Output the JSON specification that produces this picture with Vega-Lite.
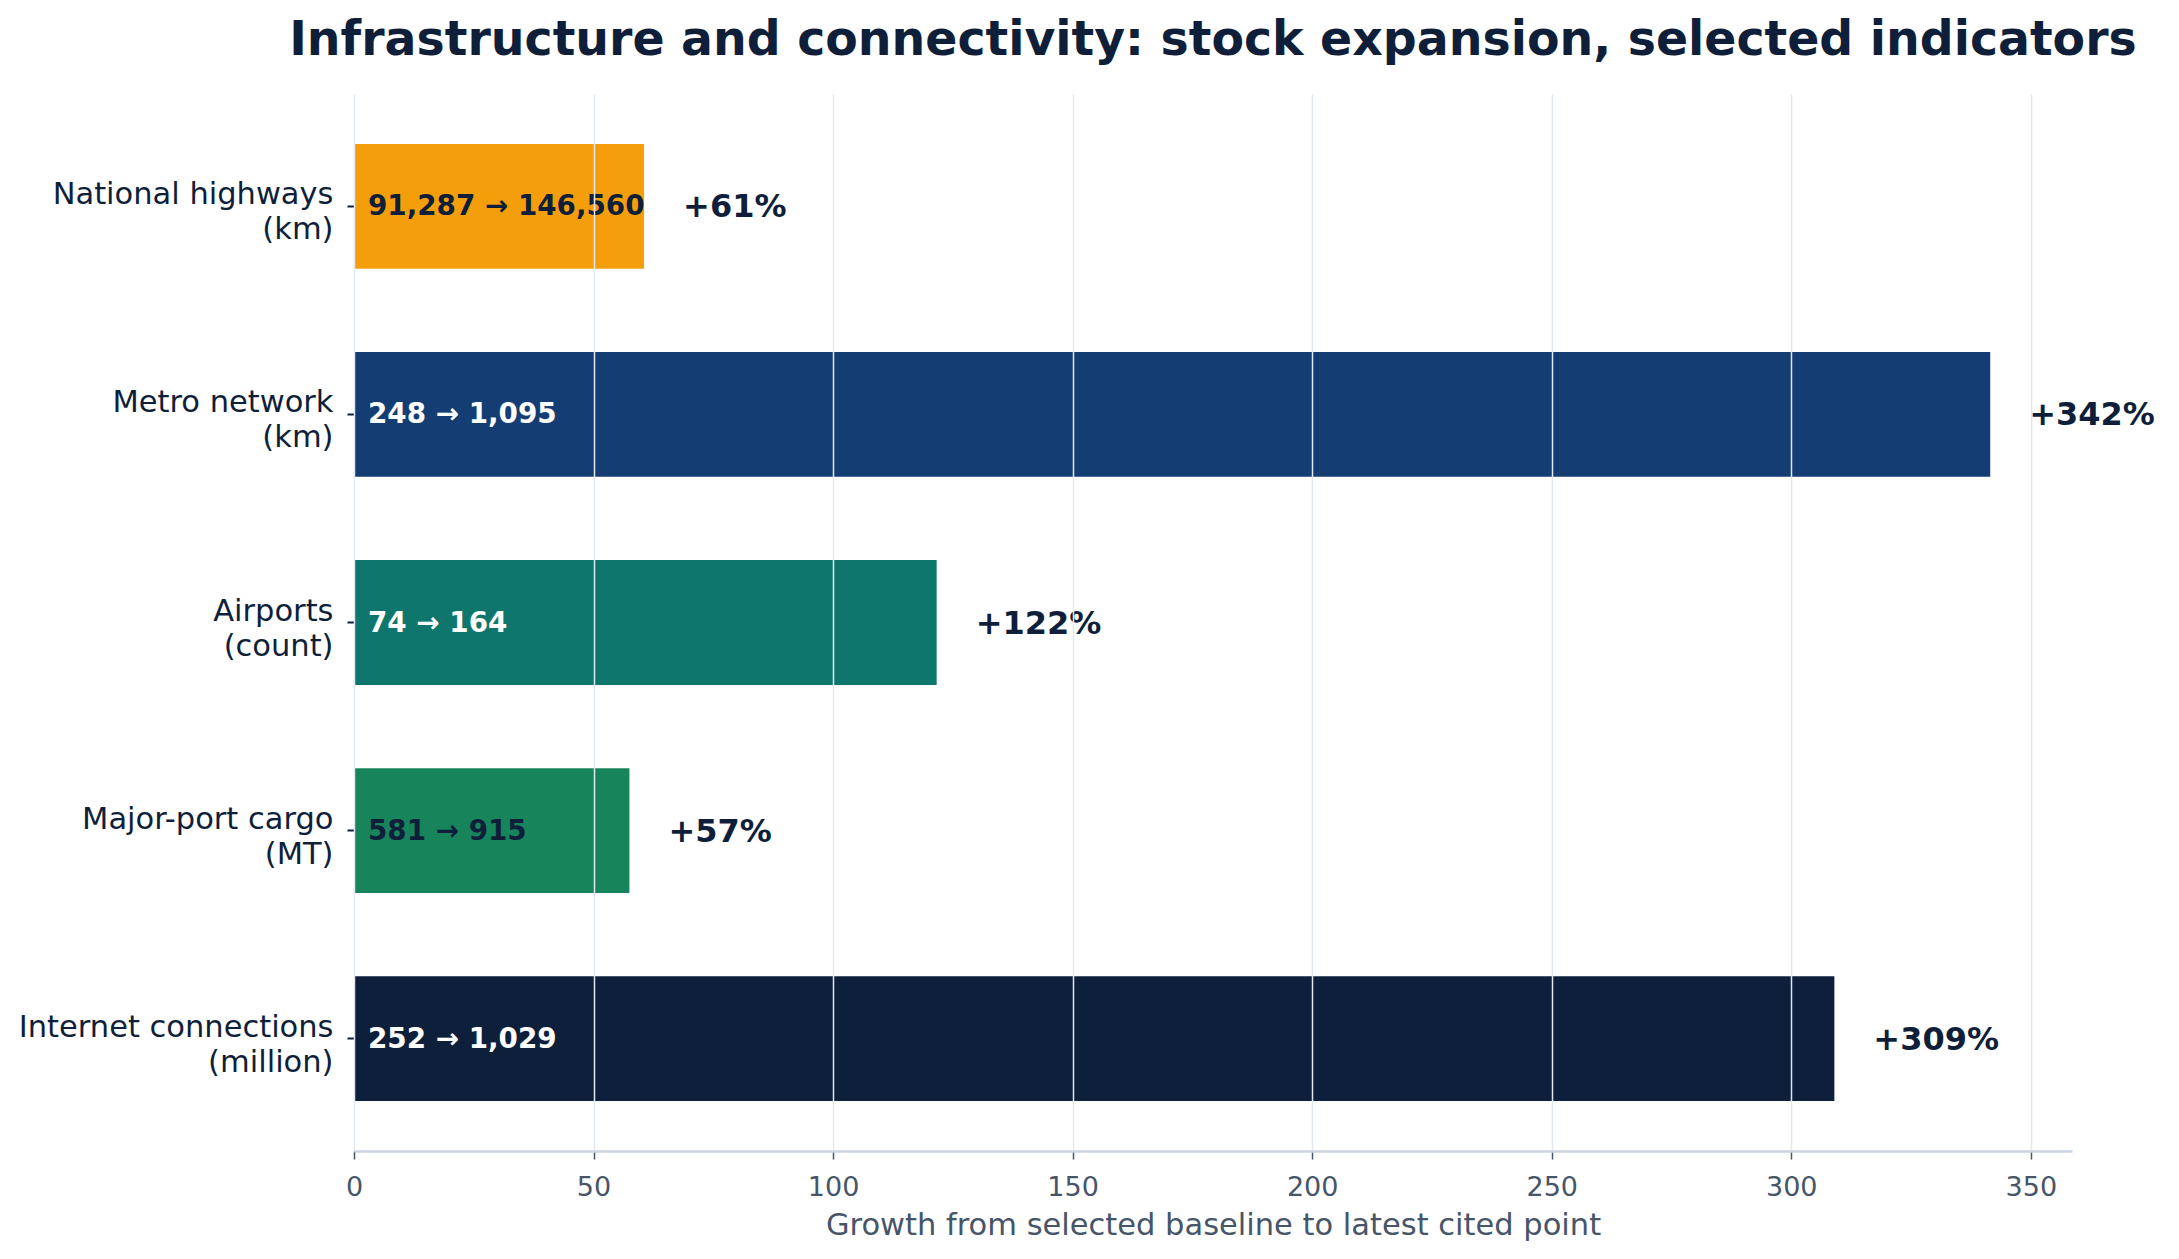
{
  "$schema": "https://vega.github.io/schema/vega-lite/v6.json",
  "autosize": {"type": "none"},
  "width": 1718,
  "height": 1057,
  "padding": {"left": 354, "top": 94, "right": 107, "bottom": 108},
  "background": "white",
  "title": {
    "text": "Infrastructure and connectivity: stock expansion, selected indicators",
    "font": "DejaVu Sans",
    "fontSize": 47.4,
    "fontWeight": "bold",
    "color": "#0f1f3a",
    "anchor": "middle",
    "frame": "group",
    "baseline": "alphabetic",
    "offset": -8
  },
  "config": {
    "view": {"stroke": null},
    "font": "DejaVu Sans"
  },
  "data": {
    "values": [
      {"indicator": "National highways (km)", "base": 91287, "latest": 146560, "growth": 60.55},
      {"indicator": "Metro network (km)", "base": 248, "latest": 1095, "growth": 341.53},
      {"indicator": "Airports (count)", "base": 74, "latest": 164, "growth": 121.62},
      {"indicator": "Major-port cargo (MT)", "base": 581, "latest": 915, "growth": 57.49},
      {"indicator": "Internet connections (million)", "base": 252, "latest": 1029, "growth": 309.0}
    ]
  },
  "transform": [
    {"calculate": "format(datum.base, ',') + ' → ' + format(datum.latest, ',')", "as": "change"},
    {"calculate": "'+' + format(datum.growth, '.0f') + '%'", "as": "pct"}
  ],
  "encoding": {
    "y": {
      "field": "indicator",
      "type": "nominal",
      "sort": null,
      "scale": {"paddingInner": 0.4, "paddingOuter": 0.24},
      "axis": {
        "title": null,
        "domain": false,
        "ticks": true,
        "tickSize": 7,
        "tickColor": "#0f1f3a",
        "tickWidth": 2,
        "labelFont": "DejaVu Sans",
        "labelFontSize": 30.5,
        "labelColor": "#0f1f3a",
        "labelPadding": 14,
        "labelLineHeight": 35,
        "labelBaseline": "middle",
        "labelOffset": -11,
        "labelLimit": 400,
        "labelExpr": "[slice(datum.label, 0, lastindexof(datum.label, ' (')), slice(datum.label, lastindexof(datum.label, ' (') + 1)]"
      }
    }
  },
  "layer": [
    {
      "mark": {"type": "bar"},
      "encoding": {
        "x": {
          "field": "growth",
          "type": "quantitative",
          "scale": {"domain": [0, 358.6], "nice": false, "zero": true},
          "axis": {
            "title": "Growth from selected baseline to latest cited point",
            "titleFont": "DejaVu Sans",
            "titleFontSize": 30.5,
            "titleFontWeight": "normal",
            "titleColor": "#475569",
            "titlePadding": 10,
            "values": [0, 50, 100, 150, 200, 250, 300, 350],
            "grid": true,
            "gridColor": "#e2e8f0",
            "gridWidth": 1.5,
            "domainColor": "#cbd5e1",
            "domainWidth": 2.5,
            "tickColor": "#475569",
            "tickSize": 8,
            "tickWidth": 1.5,
            "labelFont": "DejaVu Sans",
            "labelFontSize": 27,
            "labelColor": "#475569",
            "labelPadding": 15,
            "labelFlush": false,
            "zindex": 1
          }
        },
        "color": {
          "field": "indicator",
          "type": "nominal",
          "legend": null,
          "scale": {
            "domain": ["National highways (km)", "Metro network (km)", "Airports (count)", "Major-port cargo (MT)", "Internet connections (million)"],
            "range": ["#f59e0b", "#143d73", "#0f766e", "#17845c", "#0e1f3b"]
          }
        }
      }
    },
    {
      "mark": {"type": "text", "align": "left", "baseline": "middle", "dx": 14, "dy": 1, "font": "DejaVu Sans", "fontSize": 27.8, "fontWeight": "bold"},
      "encoding": {
        "x": {"datum": 0, "type": "quantitative"},
        "text": {"field": "change"},
        "color": {
          "condition": {"test": "datum.indicator === 'National highways (km)' || datum.indicator === 'Major-port cargo (MT)'", "value": "#0f1f3a"},
          "value": "#ffffff"
        }
      }
    },
    {
      "mark": {"type": "text", "align": "left", "baseline": "middle", "dx": 39, "dy": 1, "font": "DejaVu Sans", "fontSize": 32, "fontWeight": "bold", "color": "#0f1f3a"},
      "encoding": {
        "x": {"field": "growth", "type": "quantitative"},
        "text": {"field": "pct"}
      }
    }
  ]
}
